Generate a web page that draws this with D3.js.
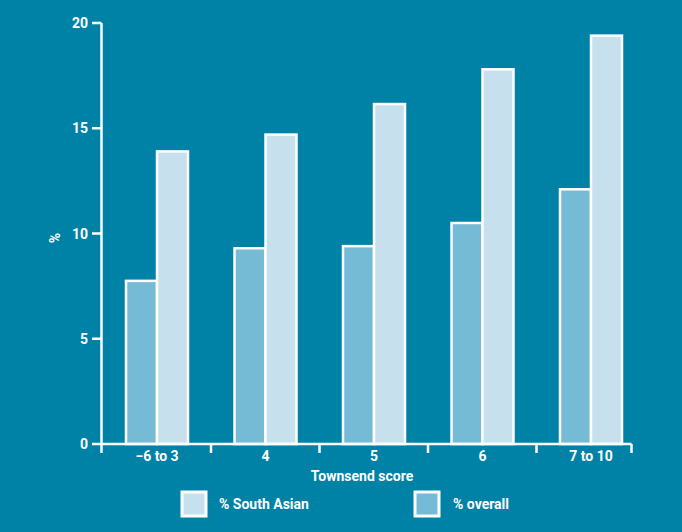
<!DOCTYPE html>
<html><head><meta charset="utf-8">
<script src="https://cdn.jsdelivr.net/npm/d3@7"></script>
<style>
html,body{margin:0;padding:0;background:#0082a6;}
svg{display:block;font-family:Roboto,"DejaVu Sans",sans-serif;font-weight:700;}
</style></head><body>
<svg id="c" width="682" height="532"></svg>
<script>
const categories = ["\u22126 to 3", "4", "5", "6", "7 to 10"];
const overall = [7.75, 9.3, 9.4, 10.5, 12.1];
const southAsian = [13.9, 14.7, 16.15, 17.8, 19.4];
const yTicks = [0, 5, 10, 15, 20];
const seriesNames = ["% overall", "% South Asian"];

const colBg = "#0082a6", colSA = "#c6e1ed", colOv = "#76bbd6";
const svg = d3.select("#c");
svg.append("rect").attr("width",682).attr("height",532).attr("fill",colBg);

const y = d3.scaleLinear().domain([0,20]).range([444,23]);
const x0 = d3.scaleBand().domain(categories).range([102.5,645]).paddingInner(0).paddingOuter(0);
const x1 = d3.scaleBand().domain(seriesNames).range([23.5, 85.5]);

const data = categories.map((c,i)=>({c, vals:[{k:"% overall",v:overall[i]},{k:"% South Asian",v:southAsian[i]}]}));

const g = svg.append("g");
g.selectAll("g.grp").data(data).join("g").attr("class","grp")
 .attr("transform",d=>`translate(${x0(d.c)},0)`)
 .selectAll("rect").data(d=>d.vals).join("rect")
 .attr("x",d=>x1(d.k)).attr("width",x1.bandwidth())
 .attr("y",d=>y(d.v)).attr("height",d=>y(0)-y(d.v))
 .attr("fill",d=>d.k==="% overall"?colOv:colSA)
 .attr("stroke","#fff").attr("stroke-width",2.5);

// Y axis
const ya = svg.append("g");
ya.append("line").attr("x1",101.5).attr("x2",101.5).attr("y1",y(20)).attr("y2",453)
  .attr("stroke","#fff").attr("stroke-width",2.5);
ya.selectAll("line.t").data(yTicks).join("line").attr("class","t")
  .attr("x1",92).attr("x2",101.5).attr("y1",d=>y(d)).attr("y2",d=>y(d))
  .attr("stroke","#fff").attr("stroke-width",2.5);
ya.selectAll("text").data(yTicks).join("text")
  .attr("x",88).attr("y",d=>y(d)).attr("dy","0.36em").attr("text-anchor","end")
  .attr("fill","#fff").attr("font-size",14).text(d=>d);

// X axis
const xEnd = 631.5;
const xa = svg.append("g");
xa.append("line").attr("x1",101.5).attr("x2",xEnd).attr("y1",y(0)).attr("y2",y(0))
  .attr("stroke","#fff").attr("stroke-width",2.5);
const bounds = categories.slice(1).map(c=>x0(c)).concat([xEnd]);
xa.selectAll("line.t").data(bounds).join("line").attr("class","t")
  .attr("x1",d=>d).attr("x2",d=>d).attr("y1",y(0)).attr("y2",453)
  .attr("stroke","#fff").attr("stroke-width",2.5);
xa.selectAll("text").data(categories).join("text")
  .attr("x",c=>x0(c)+x1("% overall")+x1.bandwidth()).attr("y",461)
  .attr("text-anchor","middle").attr("fill","#fff").attr("font-size",14).text(d=>d);

svg.append("text").attr("x",362).attr("y",481).attr("text-anchor","middle")
  .attr("fill","#fff").attr("font-size",14).text("Townsend score");
svg.append("text").attr("transform","translate(60,238) rotate(-90)").attr("text-anchor","middle")
  .attr("fill","#fff").attr("font-size",14).text("%");

// Legend
const legend = [{k:"% South Asian",x:182,c:colSA},{k:"% overall",x:415,c:colOv}];
const lg = svg.selectAll("g.lg").data(legend).join("g").attr("class","lg")
  .attr("transform",d=>`translate(${d.x},492)`);
lg.append("rect").attr("width",24).attr("height",24).attr("fill",d=>d.c)
  .attr("stroke","#fff").attr("stroke-width",3);
lg.append("text").attr("x",d=>d.k==="% overall"?38:37).attr("y",16.5)
  .attr("fill","#fff").attr("font-size",14).text(d=>d.k);
</script>
</body></html>
